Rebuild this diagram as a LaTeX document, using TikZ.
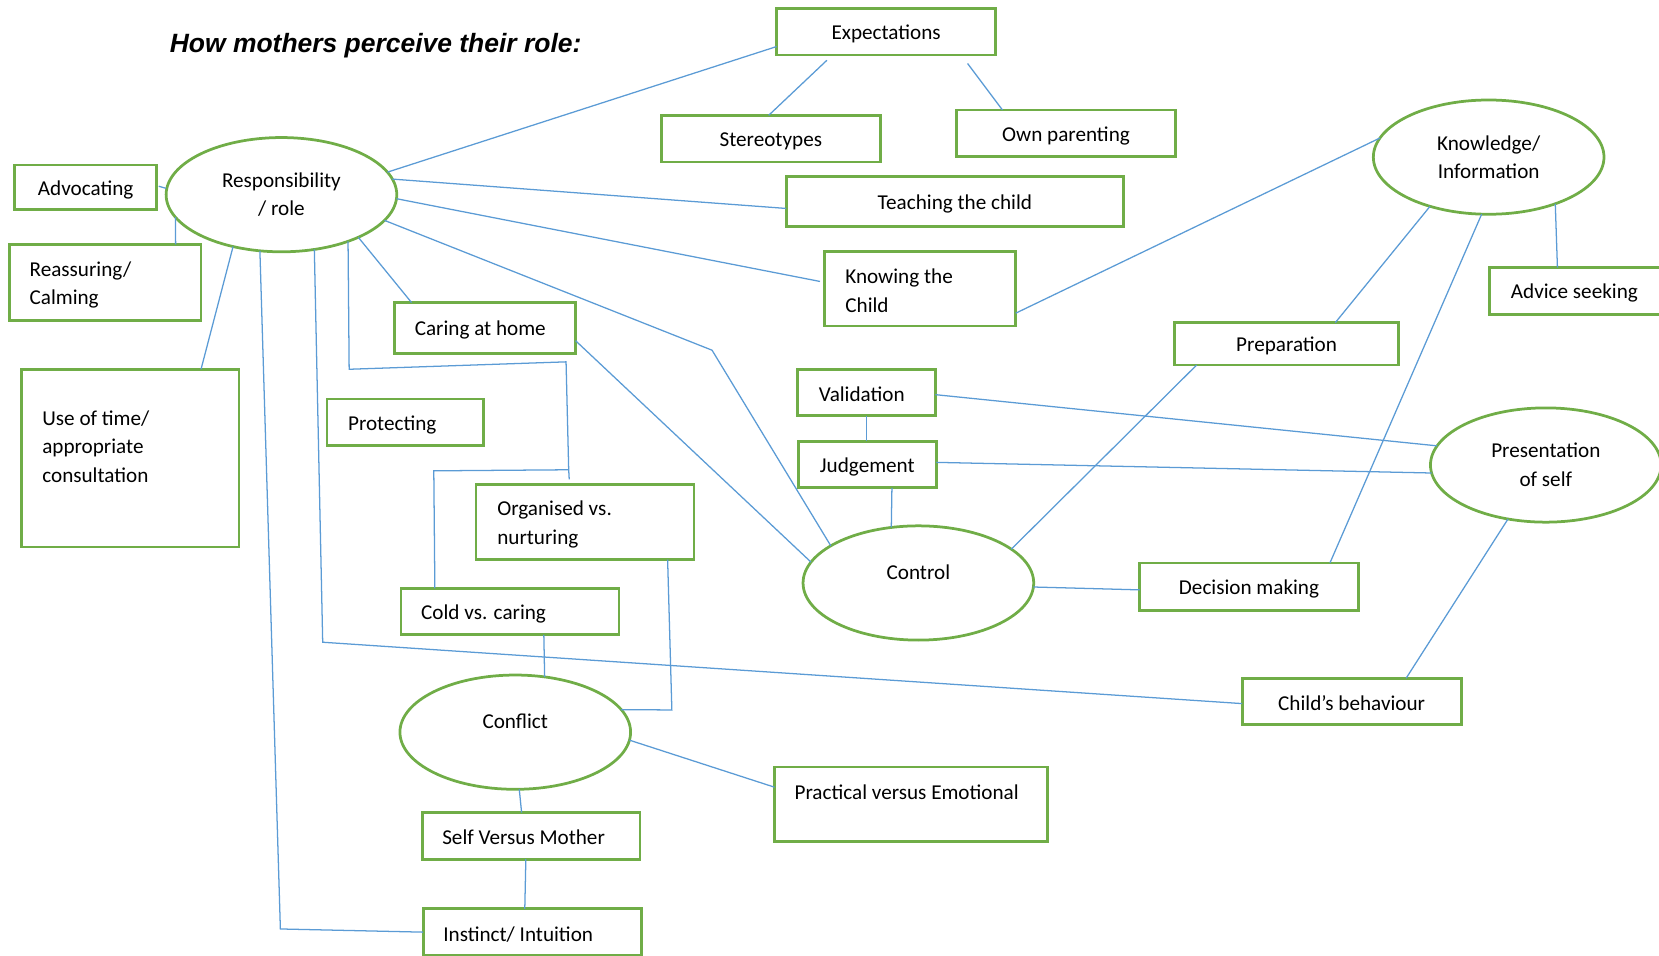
\documentclass[tikz,border=0pt]{standalone}
\usepackage{fontspec}
\setmainfont{Carlito}
\newfontfamily\titlefont{Liberation Sans}
\usetikzlibrary{shapes.geometric}
\definecolor{boxgreen}{RGB}{112,173,71}
\definecolor{linkblue}{RGB}{91,155,213}
\hyphenpenalty=10000
\exhyphenpenalty=10000
\newcommand\vstrut[2]{\rule[-#2]{0pt}{\dimexpr#1+#2\relax}}
\newcommand\ts{\vstrut{18.5pt}{0pt}}
\newcommand\bs{\vstrut{0pt}{1.5pt}}
\begin{document}
\begin{tikzpicture}[x=1pt,y=-1pt,
  shapebase/.style={draw=boxgreen,line width=2.6pt,inner sep=0pt,outer sep=0pt,font=\fontsize{20}{27}\selectfont},
  cbox/.style={shapebase,rectangle,align=center},
  lbox/.style={shapebase,rectangle,align=flush left},
  oval/.style={shapebase,ellipse,align=center,minimum width=218pt,minimum height=108pt},
  link/.style={draw=linkblue,line width=1.2pt}]
\useasboundingbox (0,0) rectangle (1568,903);

\node[anchor=base west,font=\titlefont\bfseries\itshape\fontsize{25}{30}\selectfont] (title) at (157,50) {How mothers perceive their role:};

% nodes
\node[oval] (resp) at (266,184) {Responsibility\\/ role};
\node[cbox,minimum width=134pt,minimum height=42pt] (adv) at (81,177) {\ts Advocating\bs};
\node[lbox,minimum width=181pt,minimum height=72pt,text width=143pt] (reas) at (99.5,267) {\ts Reassuring/\\Calming\bs};
\node[lbox,minimum width=206pt,minimum height=168pt,text width=166pt] (use) at (123,433) {\vstrut{14pt}{0pt}Use of time/\\appropriate\\consultation\vstrut{0pt}{22pt}};
\node[lbox,minimum width=171pt,minimum height=48pt,text width=133pt] (care) at (458.5,310) {\ts Caring at home\bs};
\node[lbox,minimum width=148pt,minimum height=44pt,text width=108pt] (prot) at (383,399) {\ts Protecting\bs};
\node[lbox,minimum width=206pt,minimum height=71pt,text width=166pt] (org) at (553,493.5) {\ts Organised vs.\\nurturing\bs};
\node[lbox,minimum width=206pt,minimum height=44pt,text width=168pt] (cold) at (482,578) {\ts Cold vs. caring\bs};
\node[oval] (conf) at (487,692) {\vstrut{14pt}{21pt}Conflict};
\node[lbox,minimum width=206pt,minimum height=44pt,text width=168pt] (self) at (502,790) {\ts Self Versus Mother\bs};
\node[lbox,minimum width=206pt,minimum height=44pt,text width=168pt] (inst) at (503,881) {\ts Instinct/ Intuition\bs};
\node[lbox,minimum width=258pt,minimum height=70pt,text width=220pt] (prac) at (861,760) {\vstrut{14pt}{23pt}Practical versus Emotional};
\node[cbox,minimum width=207pt,minimum height=44pt] (exp) at (837.5,30) {\ts Expectations\bs};
\node[cbox,minimum width=207pt,minimum height=44pt] (ster) at (728.5,131) {\ts Stereotypes\bs};
\node[cbox,minimum width=207pt,minimum height=44pt] (own) at (1007.5,126) {\ts Own parenting\bs};
\node[cbox,minimum width=319pt,minimum height=47pt] (teach) at (902.5,190.5) {\ts Teaching the child\bs};
\node[lbox,minimum width=181pt,minimum height=70pt,text width=141pt] (know) at (869.5,273) {\ts Knowing the\\Child\bs};
\node[lbox,minimum width=130pt,minimum height=44pt,text width=90pt] (val) at (819,371) {\ts Validation\bs};
\node[lbox,minimum width=130pt,minimum height=44pt,text width=90pt] (judg) at (820,439) {\ts Judgement\bs};
\node[oval] (ctrl) at (868,551) {\vstrut{14pt}{21pt}Control};
\node[cbox,minimum width=207pt,minimum height=45pt] (dec) at (1180.5,554.5) {\ts Decision making\bs};
\node[cbox,minimum width=212pt,minimum height=40pt] (prep) at (1216,325) {\ts Preparation\bs};
\node[oval] (kno) at (1407,148.5) {Knowledge/\\Information};
\node[lbox,minimum width=182pt,minimum height=44pt,text width=142pt] (advs) at (1499,275) {\ts Advice seeking\bs};
\node[oval] (pres) at (1461,439.5) {Presentation\\of self};
\node[cbox,minimum width=207pt,minimum height=44pt] (child) at (1277.5,663) {\ts Child’s behaviour\bs};

% bend points
\coordinate (b6) at (673,331);
\coordinate (b8a) at (330,349);
\coordinate (b8b) at (535,342);
\coordinate (j8) at (537.5,444);
\coordinate (b8c) at (410,445);
\coordinate (b9) at (305,607);
\coordinate (b10) at (265,878);
\coordinate (b15) at (635,671);

% connectors
\draw[link] (resp.12) -- ([yshift=-14pt]exp.west);
\draw[link] ([xshift=-56pt,yshift=-5pt]exp.south) -- ([xshift=-2pt]ster.north);
\draw[link] ([xshift=77pt,yshift=-8pt]exp.south) -- ([xshift=-60pt]own.north);
\draw[link] (resp.8) -- ([yshift=-6.5pt]teach.west);
\draw[link] (resp.-2) -- ([xshift=-4pt,yshift=7pt]know.west);
\draw[link] (resp.-14) -- (b6) -- (ctrl.157);
\draw[link] (resp.-29) -- ([xshift=-69.5pt]care.north);
\draw[link] (resp.-35) -- (b8a) -- (b8b) -- (j8) -- ([xshift=-15pt,yshift=5pt]org.north);
\draw[link] (j8) -- (b8c) -- ([xshift=-71pt]cold.north);
\draw[link] (resp.-59) -- (b9) -- ([yshift=-2pt]child.west);
\draw[link] (resp.249) -- (b10) -- (inst.west);
\draw[link] (resp.227) -- ([xshift=67pt]use.north);
\draw[link] (resp.192) -- ([xshift=66.5pt]reas.north);
\draw[link] ([xshift=2pt,yshift=1pt]adv.east) -- ([yshift=6pt]resp.west);
\draw[link] ([yshift=-12pt]care.east) -- (ctrl.169);
\draw[link] ([xshift=78pt]org.south) -- (b15) -- (conf.12);
\draw[link] ([xshift=32pt]cold.south) -- (conf.62);
\draw[link] (conf.-4) -- ([yshift=16pt]prac.west);
\draw[link] (conf.-86) -- ([xshift=-9pt]self.north);
\draw[link] ([xshift=-5pt]self.south) -- ([xshift=-7pt]inst.north);
\draw[link] (val.south) -- ([xshift=-1pt]judg.north);
\draw[link] ([yshift=-2pt]val.east) -- (pres.170);
\draw[link] ([yshift=2pt]judg.east) -- (pres.184);
\draw[link] ([xshift=23pt]judg.south) -- (ctrl.116);
\draw[link] (ctrl.20) -- ([xshift=-85pt]prep.south);
\draw[link] (ctrl.-2) -- ([yshift=-3pt]dec.west);
\draw[link] ([yshift=-23pt]know.east) -- (kno.170);
\draw[link] (kno.220) -- ([xshift=46pt]prep.north);
\draw[link] (kno.263) -- ([xshift=76.5pt]dec.north);
\draw[link] (kno.-35) -- ([xshift=-27pt]advs.north);
\draw[link] (pres.235) -- ([xshift=51.5pt]child.north);
\end{tikzpicture}
\end{document}
